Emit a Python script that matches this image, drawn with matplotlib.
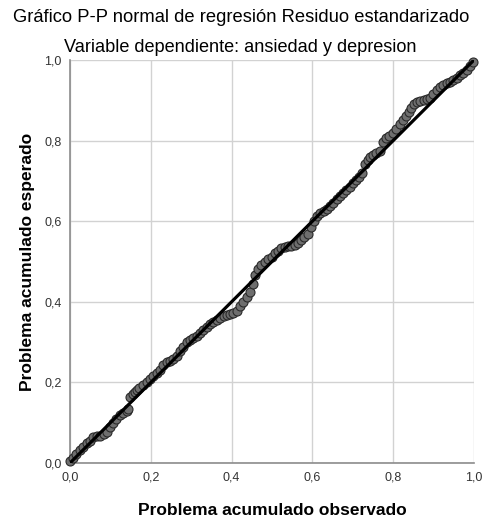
import matplotlib
matplotlib.use('Agg')
import matplotlib.pyplot as plt

plt.rcParams['font.family'] = ['Liberation Sans', 'DejaVu Sans']

observado = [0.000, 0.008, 0.015, 0.025, 0.033, 0.041, 0.050, 0.058, 0.066, 0.074,
             0.083, 0.091, 0.099, 0.107, 0.115, 0.124, 0.132, 0.140, 0.144, 0.149,
             0.155, 0.160, 0.165, 0.172, 0.180, 0.190, 0.198, 0.206, 0.215, 0.223,
             0.231, 0.239, 0.248, 0.256, 0.264, 0.272, 0.280, 0.289, 0.297, 0.305,
             0.314, 0.322, 0.330, 0.338, 0.347, 0.355, 0.363, 0.371, 0.380, 0.388,
             0.396, 0.404, 0.413, 0.421, 0.429, 0.437, 0.446, 0.452, 0.458, 0.466,
             0.474, 0.482, 0.490, 0.499, 0.507, 0.515, 0.523, 0.531, 0.540, 0.548,
             0.556, 0.564, 0.572, 0.580, 0.588, 0.596, 0.604, 0.612, 0.620, 0.628,
             0.636, 0.644, 0.652, 0.660, 0.668, 0.676, 0.684, 0.692, 0.700, 0.708,
             0.716, 0.724, 0.730, 0.737, 0.743, 0.750, 0.758, 0.767, 0.775, 0.781,
             0.790, 0.800, 0.808, 0.816, 0.825, 0.832, 0.838, 0.845, 0.852, 0.858,
             0.866, 0.875, 0.883, 0.891, 0.899, 0.908, 0.916, 0.924, 0.932, 0.940,
             0.948, 0.957, 0.965, 0.973, 0.982, 0.990, 0.998]
esperado = [0.004, 0.012, 0.022, 0.032, 0.040, 0.049, 0.055, 0.064, 0.066, 0.068,
            0.072, 0.076, 0.090, 0.100, 0.108, 0.118, 0.124, 0.130, 0.133, 0.163,
            0.170, 0.176, 0.181, 0.186, 0.193, 0.202, 0.209, 0.216, 0.224, 0.232,
            0.243, 0.250, 0.254, 0.258, 0.265, 0.277, 0.289, 0.301, 0.306, 0.310,
            0.314, 0.322, 0.331, 0.338, 0.345, 0.351, 0.356, 0.360, 0.364, 0.367,
            0.369, 0.371, 0.378, 0.389, 0.400, 0.413, 0.425, 0.445, 0.467, 0.482,
            0.491, 0.498, 0.505, 0.512, 0.520, 0.527, 0.533, 0.537, 0.538, 0.539,
            0.540, 0.546, 0.553, 0.560, 0.568, 0.585, 0.600, 0.612, 0.621, 0.625,
            0.630, 0.638, 0.646, 0.655, 0.662, 0.670, 0.678, 0.686, 0.694, 0.702,
            0.710, 0.720, 0.742, 0.752, 0.760, 0.764, 0.768, 0.774, 0.796, 0.806,
            0.812, 0.818, 0.828, 0.840, 0.851, 0.862, 0.872, 0.882, 0.892, 0.897,
            0.899, 0.901, 0.903, 0.906, 0.915, 0.926, 0.932, 0.937, 0.942, 0.946,
            0.950, 0.955, 0.962, 0.968, 0.975, 0.986, 0.996]

ticks = [0.0, 0.2, 0.4, 0.6, 0.8, 1.0]
tick_labels = ['0,0', '0,2', '0,4', '0,6', '0,8', '1,0']

fig = plt.figure(figsize=(4.84, 5.21), dpi=100)
ax = fig.add_axes([70/484, 58/521, 404/484, 403/521])

ax.plot([0, 1], [0, 1], color='black', lw=2.3, zorder=4)
ax.scatter(observado, esperado, s=42, facecolor='#6e6e6e', edgecolor='#2a2a2a',
           linewidths=0.8, zorder=3, clip_on=False)

ax.set_xlim(0, 1)
ax.set_ylim(0, 1)
ax.set_xticks(ticks)
ax.set_xticklabels(tick_labels)
ax.set_yticks(ticks)
ax.set_yticklabels(tick_labels)
ax.tick_params(length=0, labelsize=9, labelcolor='#333333', pad=6)
ax.grid(True, color='#d2d2d2', lw=1.0)
ax.set_axisbelow(True)
for s in ['top', 'right']:
    ax.spines[s].set_visible(False)
for s in ['left', 'bottom']:
    ax.spines[s].set_color('#8c8c8c')
    ax.spines[s].set_linewidth(1.2)

fig.text(241/484, 1 - 17/521, 'Gráfico P-P normal de regresión Residuo estandarizado',
         ha='center', va='center', fontsize=13.2)
fig.text(240/484, 1 - 47/521, 'Variable dependiente: ansiedad y depresion',
         ha='center', va='center', fontsize=13.1)
ax.set_xlabel('Problema acumulado observado', fontsize=12.5, fontweight='bold', labelpad=14)
ax.set_ylabel('Problema acumulado esperado', fontsize=12.5, fontweight='bold', labelpad=7)

fig.savefig('out.png', dpi=100)
